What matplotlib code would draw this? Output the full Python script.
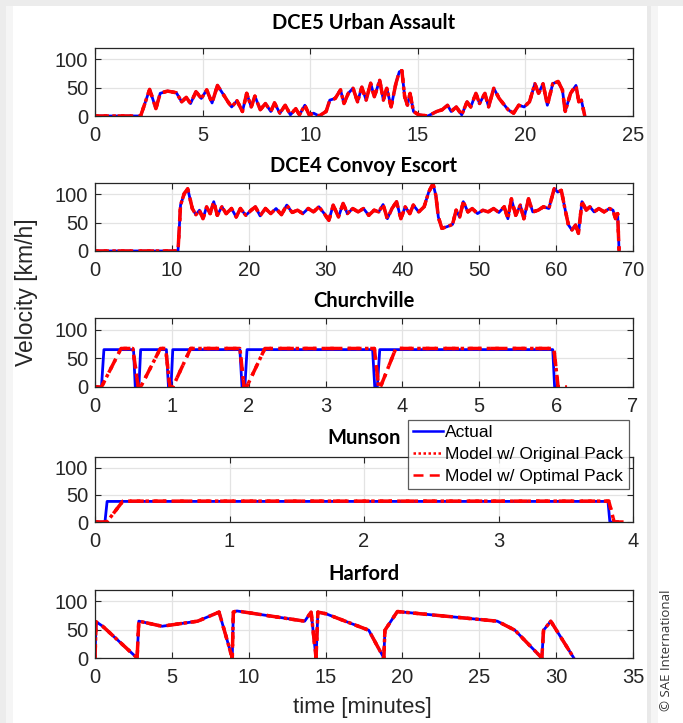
import matplotlib
matplotlib.use("Agg")
import matplotlib.pyplot as plt
from matplotlib.patches import Rectangle
from matplotlib.lines import Line2D

plt.rcParams['font.family'] = ['Liberation Sans', 'DejaVu Sans']

# ---------------- data ----------------
titles = ["DCE5 Urban Assault", "DCE4 Convoy Escort", "Churchville", "Munson", "Harford"]
xlims = [25, 70, 7, 4, 35]
xticks_list = [[0, 5, 10, 15, 20, 25],
               [0, 10, 20, 30, 40, 50, 60, 70],
               [0, 1, 2, 3, 4, 5, 6, 7],
               [0, 1, 2, 3, 4],
               [0, 5, 10, 15, 20, 25, 30, 35]]
yticks = [0, 50, 100]

dce5_t = [0, 2.12, 2.54, 2.83, 3.03, 3.37, 3.78, 4.03, 4.24, 4.44, 4.69, 4.94, 5.19, 5.44, 5.69,
          5.93, 6.18, 6.35, 6.60, 6.85, 7.05, 7.26, 7.43, 7.68, 7.92, 8.17, 8.34, 8.59, 8.84, 9.08,
          9.33, 9.50, 9.75, 9.95, 10.16, 10.41, 10.74, 10.91, 11.16, 11.41, 11.57, 11.77, 11.99,
          12.20, 12.40, 12.60, 12.81, 12.98, 13.23, 13.40, 13.56, 13.76, 13.98, 14.14, 14.26, 14.39,
          14.52, 14.64, 14.80, 15.05, 15.47, 15.88, 16.13, 16.38, 16.55, 16.79, 17.04, 17.29, 17.46,
          17.70, 17.87, 18.12, 18.29, 18.53, 18.78, 19.03, 19.20, 19.45, 19.69, 19.94, 20.19, 20.44,
          20.61, 20.82, 21.02, 21.27, 21.52, 21.72, 21.85, 22.10, 22.35, 22.48, 22.60, 22.76]
dce5_v = [0, 0, 47, 13, 40, 44, 41, 25, 33, 22, 43, 31, 46, 23, 54, 40, 25, 16, 27, 8, 40, 16, 35,
          11, 22, 8, 23, 5, 19, 2, 13, 2, 19, 2, 5, 0, 8, 28, 31, 46, 22, 40, 49, 25, 51, 28, 58, 34,
          63, 28, 49, 16, 57, 78, 80, 34, 19, 40, 8, 2, 0, 8, 11, 19, 8, 16, 2, 25, 16, 40, 22, 40,
          16, 49, 31, 19, 11, 5, 19, 16, 25, 57, 40, 57, 19, 57, 61, 46, 8, 40, 54, 25, 28, 0]

dce4_t = [0, 10.80, 11.13, 11.60, 12.06, 12.66, 13.13, 13.59, 14.05, 14.52, 14.98, 15.45, 15.91,
          16.51, 17.07, 17.76, 18.37, 18.92, 19.62, 20.32, 20.87, 21.48, 22.17, 22.87, 23.56, 24.26,
          24.95, 25.65, 26.35, 27.04, 27.74, 28.43, 29.13, 29.83, 30.43, 30.99, 31.68, 32.28, 32.84,
          33.54, 34.23, 34.93, 35.62, 36.32, 36.92, 37.48, 38.04, 38.64, 39.24, 39.80, 40.36, 40.96,
          41.42, 42.12, 42.82, 43.42, 43.97, 44.35, 44.67, 45.13, 45.83, 46.52, 46.99, 47.45, 47.92,
          48.52, 49.08, 49.77, 50.47, 51.16, 51.86, 52.55, 53.25, 53.72, 54.18, 54.74, 55.34, 55.80,
          56.41, 56.96, 57.66, 58.35, 59.05, 59.75, 60.21, 60.67, 61.14, 61.60, 62.06, 62.53, 62.90,
          63.36, 63.92, 64.39, 64.94, 65.55, 66.24, 66.94, 67.40, 67.72, 68.00, 68.19]
dce4_v = [0, 0, 81, 101, 110, 75, 64, 72, 57, 78, 66, 87, 63, 78, 66, 75, 60, 75, 63, 72, 78, 62,
          75, 66, 75, 64, 81, 68, 72, 66, 75, 69, 78, 66, 54, 81, 60, 84, 66, 75, 69, 75,
          63, 72, 69, 82, 57, 75, 87, 57, 78, 66, 81, 69, 78, 104, 119, 98, 60, 40, 43, 47,
          72, 60, 87, 69, 75, 66, 72, 69, 75, 68, 78, 57, 92, 63, 81, 57, 92, 69, 72, 78,
          75, 110, 104, 107, 75, 46, 37, 46, 31, 87, 72, 78, 69, 75, 69, 75, 72, 57, 66, 0]

church_t = [0, 0.084, 0.116, 0.501, 0.524, 0.571, 0.594, 0.929, 0.956, 0.989, 1.012, 1.885, 1.913,
            1.950, 1.978, 3.612, 3.640, 3.673, 3.705, 5.956, 5.980, 6.020]
church_v = [0, 0, 65, 65, 0, 0, 65, 65, 0, 0, 65, 65, 0, 0, 65, 65, 0, 0, 65, 65, 0, 0]
church_model_t = [0, 0.084, 0.339, 0.492, 0.562, 0.594, 0.850, 0.919, 0.975, 1.012, 1.244, 1.885,
                  1.940, 1.973, 2.210, 3.635, 3.690, 3.714, 3.914, 5.970, 6.026, 6.142]
church_model_v = [0, 0, 67, 67, 0, 0, 67, 67, 0, 0, 67, 67, 0, 0, 67, 67, 0, 0, 67, 67, 0, 0]

munson_t = [0, 0.074, 0.090, 3.814, 3.828, 3.880]
munson_v = [0, 0, 38, 38, 0, 0]
munson_model_t = [0, 0.088, 0.207, 3.820, 3.860, 3.930]
munson_model_v = [0, 0, 38.5, 38.5, 0, 0]

harford_t = [0, 0.07, 0.50, 2.74, 2.85, 3.20, 4.36, 6.68, 8.07, 8.93, 9.00, 9.23, 13.64, 14.06,
             14.38, 14.50, 15.03, 17.81, 18.79, 18.86, 19.67, 26.17, 27.32, 29.07, 29.18, 29.65, 31.15]
harford_v = [0, 64, 56, 0, 65, 63, 56, 65, 81, 0, 81, 83, 65, 81, 0, 81, 78, 49, 0, 49, 82, 65,
             49, 0, 49, 65, 0]

actual = [(dce5_t, dce5_v), (dce4_t, dce4_v), (church_t, church_v), (munson_t, munson_v),
          (harford_t, harford_v)]
model_orig = [(dce5_t, dce5_v), (dce4_t, dce4_v), (church_model_t, church_model_v),
              (munson_model_t, munson_model_v), (harford_t, harford_v)]
model_opt = model_orig

# ---------------- layout ----------------
W, H = 683, 723
fig = plt.figure(figsize=(W / 100, H / 100), dpi=100)
fig.patch.set_facecolor('white')

# screenshot panel shadows
for (x0, y0, w, h, c) in [(0, 0, 6, H, '#ececec'), (6, 0, 7, H, '#f5f5f5'),
                          (0, H - 6, W, 6, '#ececec'),
                          (647, 0, 4, H - 6, '#e9e9e9'), (651, 0, 7, H - 6, '#f5f5f5')]:
    fig.add_artist(Rectangle((x0 / W, y0 / H), w / W, h / H, transform=fig.transFigure,
                             facecolor=c, edgecolor='none', zorder=-5))

ax_px = [(48, 116), (183, 251), (318, 387), (457, 522), (590, 658)]
left, right = 95, 633
pads = [14, 8, 8, 9, 7.5]
dark = '#262626'

axes = []
for i, (top, bot) in enumerate(ax_px):
    ax = fig.add_axes([left / W, 1 - bot / H, (right - left) / W, (bot - top) / H])
    axes.append(ax)
    ax.set_xlim(0, xlims[i])
    ax.set_ylim(0, 120)
    ax.set_xticks(xticks_list[i])
    ax.set_yticks(yticks)
    ax.grid(True, color='#e3e3e3', linewidth=0.9)
    ax.set_axisbelow(True)
    ax.tick_params(direction='in', top=True, right=True, length=4, width=0.8,
                   colors=dark, labelsize=14.5)
    ax.tick_params(axis='x', pad=7)
    ax.tick_params(axis='y', pad=5)
    for sp in ax.spines.values():
        sp.set_color(dark)
        sp.set_linewidth(0.9)
    ax.set_title(titles[i], fontsize=14.5, fontweight='bold', family=['Lato', 'DejaVu Sans'],
                 pad=pads[i], color='black')

    ta, va = actual[i]
    to, vo = model_orig[i]
    tp, vp = model_opt[i]
    ax.plot(ta, va, color=(0, 0, 1), linewidth=2.0, solid_joinstyle='round')
    ax.plot(to, vo, color=(1, 0, 0), linewidth=2.5, linestyle=(0, (1, 1.5)))
    ax.plot(tp, vp, color=(1, 0, 0), linewidth=2.5, linestyle=(0, (4, 2.5)))

handles = [Line2D([], [], color=(0, 0, 1), linewidth=1.8),
           Line2D([], [], color=(1, 0, 0), linewidth=1.8, linestyle=(0, (1, 1))),
           Line2D([], [], color=(1, 0, 0), linewidth=1.8, linestyle=(0, (4, 2.5)))]
leg = fig.legend(handles, ["Actual", "Model w/ Original Pack", "Model w/ Optimal Pack"],
                 loc='upper left', bbox_to_anchor=(408 / W, 1 - 420 / H), borderaxespad=0,
                 fontsize=12.5, frameon=True, fancybox=False, edgecolor='#333333',
                 handlelength=1.7, handletextpad=0.15, labelspacing=0.38, borderpad=0.3)
leg.get_frame().set_linewidth(0.9)

fig.text(27 / W, 1 - 292 / H, 'Velocity [km/h]', rotation=90, ha='center', va='center',
         fontsize=16.5, color=dark)
fig.text(362 / W, 1 - 708 / H, 'time [minutes]', ha='center', va='center', fontsize=16, color=dark)
fig.text(666 / W, 1 - 650 / H, '\u00a9 SAE International', rotation=90, ha='center', va='center',
         fontsize=9.5, family=['Open Sans', 'DejaVu Sans'], color='#333333')

fig.savefig('out.png', dpi=100)
